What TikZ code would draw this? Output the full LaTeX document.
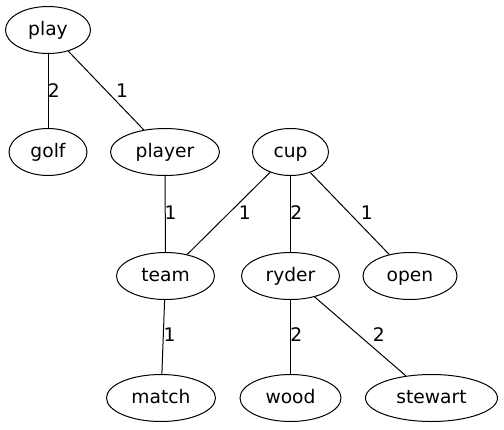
\documentclass[tikz,border=0pt]{standalone}
\usepackage{fontspec}
\setmainfont{DejaVu Sans}
\usetikzlibrary{shapes.geometric}
\begin{document}
\begin{tikzpicture}[x=1pt,y=-1pt,
  gnode/.style={draw, ellipse, inner sep=0pt, minimum height=47pt, line width=1pt,
    font=\fontsize{18.67}{20}\selectfont, text height=14pt, text depth=2.8pt},
  elabel/.style={font=\fontsize{18.67}{20}\selectfont, inner sep=0pt},
  edge/.style={line width=1pt}]
\useasboundingbox (0,0) rectangle (504,429);
\node[gnode, minimum width=85pt] (play) at (48,30) {play};
\node[gnode, minimum width=78pt] (golf) at (48,152) {golf};
\node[gnode, minimum width=109pt] (player) at (165,152) {player};
\node[gnode, minimum width=76pt] (cup) at (290.5,152) {cup};
\node[gnode, minimum width=98pt] (team) at (165.5,276) {team};
\node[gnode, minimum width=98pt] (ryder) at (290.5,276) {ryder};
\node[gnode, minimum width=94pt] (open) at (410,276) {open};
\node[gnode, minimum width=109pt] (match) at (161,398) {match};
\node[gnode, minimum width=101pt] (wood) at (290.5,398) {wood};
\node[gnode, minimum width=132pt] (stewart) at (431.5,398) {stewart};
\draw[edge] (play) -- (golf);
\draw[edge] (play) -- (player);
\draw[edge] (player) -- (team);
\draw[edge] (cup) -- (team);
\draw[edge] (cup) -- (ryder);
\draw[edge] (cup) -- (open);
\draw[edge] (team) -- (match);
\draw[edge] (ryder) -- (wood);
\draw[edge] (ryder) -- (stewart);
\node[elabel] (l1) at (53.7,91) {2};
\node[elabel] (l2) at (122,91) {1};
\node[elabel] (l3) at (170.5,213) {1};
\node[elabel] (l4) at (244.7,213) {1};
\node[elabel] (l5) at (296.3,213) {2};
\node[elabel] (l6) at (366.7,213) {1};
\node[elabel] (l7) at (169.5,335) {1};
\node[elabel] (l8) at (296.3,335) {2};
\node[elabel] (l9) at (378.7,335) {2};
\end{tikzpicture}
\end{document}
